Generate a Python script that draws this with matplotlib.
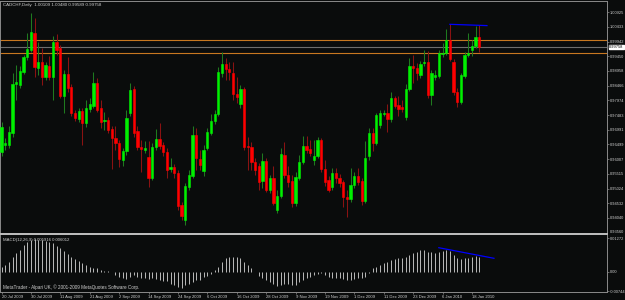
import numpy as np
import matplotlib
matplotlib.use("Agg")
import matplotlib.pyplot as plt
import matplotlib.transforms as mtransforms
from matplotlib.lines import Line2D

plt.rcParams["font.family"] = ["Liberation Sans", "DejaVu Sans"]

# ---- data ----
symbol_info = "CADCHF,Daily  1.00109 1.00480 0.99589 0.99758"
macd_info = "MACD(12,26,9) 0.005916 0.006012"
footer = "MetaTrader - Alpari UK, \u00a9 2001-2009 MetaQuotes Software Corp."

opens = [0.96237, 0.96471, 0.96471, 0.96872, 0.98511, 0.98478, 0.98912, 0.99414, 0.99648, 1.00216,
         0.99046, 0.99247, 0.98745, 0.99113, 0.98745, 0.99916, 0.99715, 0.98110, 0.98845, 0.98411,
         0.97541, 0.97341, 0.97608, 0.97207, 0.97675, 0.97775, 0.98544, 0.97709, 0.97274, 0.97307,
         0.97006, 0.96705, 0.96538, 0.95970, 0.96271, 0.97541, 0.98344, 0.96939, 0.96404, 0.96304,
         0.96070, 0.95368, 0.96404, 0.96672, 0.96471, 0.96237, 0.95669, 0.95736, 0.95535, 0.94465,
         0.93963, 0.95067, 0.95435, 0.96806, 0.96003, 0.95602, 0.96371, 0.96872, 0.97274, 0.97508,
         0.98879, 0.99180, 0.99013, 0.98879, 0.98177, 0.97842, 0.98344, 0.96438, 0.96404, 0.95903,
         0.95769, 0.95267, 0.95936, 0.94966, 0.95368, 0.94298, 0.94766, 0.96137, 0.95468, 0.95267,
         0.94532, 0.95368, 0.95903, 0.96438, 0.96337, 0.95970, 0.96103, 0.96638, 0.95669, 0.95301,
         0.95067, 0.95535, 0.95368, 0.95234, 0.94732, 0.94665, 0.95134, 0.95435, 0.95267, 0.94599,
         0.96103, 0.96872, 0.96538, 0.97140, 0.97508, 0.97541, 0.97341, 0.98043, 0.97809, 0.97742,
         0.97408, 0.98344, 0.99113, 0.99046, 0.98812, 0.99213, 0.99247, 0.98143, 0.98745, 0.98779,
         0.99514, 0.99548, 0.99982, 0.99247, 0.98244, 0.97909, 0.98779, 0.99481, 0.99648, 0.99782,
         1.00109]
highs = [0.97240, 0.96705, 0.97107, 0.98879, 0.99146, 0.99113, 0.99481, 1.00216, 1.00885, 1.00718,
         0.99916, 0.99715, 0.99247, 0.99447, 1.00116, 1.00183, 0.99815, 0.98979, 0.99414, 0.98511,
         0.97642, 0.97709, 0.97709, 0.97976, 0.98043, 0.98912, 0.98712, 0.97976, 0.97575, 0.97408,
         0.97107, 0.97107, 0.96638, 0.96371, 0.97642, 0.98544, 0.98444, 0.97107, 0.96638, 0.96605,
         0.96605, 0.96538, 0.97006, 0.97207, 0.96572, 0.96371, 0.96037, 0.95836, 0.95635, 0.94565,
         0.95201, 0.95635, 0.97107, 0.97040, 0.96304, 0.96471, 0.97040, 0.97508, 0.97642, 0.99080,
         0.99581, 0.99381, 0.99247, 0.99247, 0.98745, 0.98478, 0.98411, 0.96739, 0.96572, 0.96037,
         0.95869, 0.96204, 0.96037, 0.95468, 0.95769, 0.94966, 0.96371, 0.96572, 0.95769, 0.95468,
         0.95568, 0.96137, 0.96772, 0.96772, 0.96638, 0.96638, 0.96739, 0.96705, 0.95970, 0.95435,
         0.95702, 0.95702, 0.95501, 0.95301, 0.94966, 0.95702, 0.95568, 0.95702, 0.95368, 0.96605,
         0.97040, 0.97040, 0.97541, 0.97642, 0.97642, 0.97842, 0.98244, 0.98110, 0.98110, 0.97976,
         0.98511, 0.99381, 0.99481, 0.99213, 0.99280, 0.99648, 0.99615, 0.98979, 0.98979, 0.99648,
         0.99882, 1.00350, 1.00517, 0.99347, 0.98377, 0.98879, 0.99581, 1.00216, 0.99982, 1.00451,
         1.00480]
lows = [0.96103, 0.96304, 0.96371, 0.96739, 0.97976, 0.98377, 0.98845, 0.99314, 0.99581, 0.98745,
        0.98812, 0.98478, 0.98645, 0.98645, 0.97976, 0.99481, 0.98043, 0.97541, 0.98244, 0.97441,
        0.97274, 0.97240, 0.96471, 0.97073, 0.97575, 0.97709, 0.97575, 0.97040, 0.96973, 0.96872,
        0.95669, 0.96304, 0.95736, 0.95769, 0.96137, 0.97441, 0.96739, 0.96304, 0.95568, 0.96204,
        0.95067, 0.95301, 0.96304, 0.96337, 0.96103, 0.95368, 0.95568, 0.95368, 0.94298, 0.93963,
        0.93796, 0.94966, 0.95368, 0.95635, 0.95635, 0.95435, 0.96304, 0.96806, 0.97173, 0.97441,
        0.98745, 0.98645, 0.98645, 0.97976, 0.97876, 0.97709, 0.96304, 0.95635, 0.95635, 0.95468,
        0.94966, 0.95033, 0.94900, 0.94866, 0.94465, 0.94197, 0.94699, 0.95368, 0.95067, 0.94398,
        0.94431, 0.95301, 0.95836, 0.96204, 0.96103, 0.95802, 0.96037, 0.95568, 0.95100, 0.94900,
        0.94966, 0.95201, 0.95067, 0.94398, 0.94064, 0.94565, 0.95033, 0.95134, 0.94465, 0.94532,
        0.95970, 0.96271, 0.96471, 0.97040, 0.97441, 0.96906, 0.97240, 0.97709, 0.97441, 0.97575,
        0.97307, 0.98277, 0.98544, 0.98645, 0.98712, 0.99113, 0.98043, 0.97809, 0.98645, 0.98712,
        0.99414, 0.99481, 0.99280, 0.98143, 0.97742, 0.97842, 0.98712, 0.99414, 0.99447, 0.99715,
        0.99589]
closes = [0.97073, 0.96538, 0.96906, 0.98511, 0.98578, 0.98946, 0.99414, 0.99681, 1.00250, 0.99080,
          0.99247, 0.98745, 0.99146, 0.98745, 0.99916, 0.99648, 0.98110, 0.98845, 0.98377, 0.97541,
          0.97374, 0.97608, 0.97207, 0.97709, 0.97842, 0.98544, 0.97642, 0.97240, 0.97307, 0.96973,
          0.96705, 0.96538, 0.96003, 0.96271, 0.97374, 0.98310, 0.96872, 0.96404, 0.96337, 0.96371,
          0.95368, 0.96404, 0.96672, 0.96438, 0.96237, 0.95635, 0.95736, 0.95535, 0.94431, 0.94097,
          0.95100, 0.95468, 0.96806, 0.96037, 0.95802, 0.96304, 0.96906, 0.97274, 0.97508, 0.98912,
          0.99180, 0.99013, 0.98912, 0.98177, 0.98076, 0.98344, 0.96404, 0.96404, 0.95903, 0.95635,
          0.95234, 0.95936, 0.94966, 0.95368, 0.94532, 0.94766, 0.96170, 0.95468, 0.95234, 0.94532,
          0.95401, 0.95903, 0.96438, 0.96304, 0.96204, 0.96103, 0.96638, 0.95669, 0.95234, 0.94966,
          0.95535, 0.95368, 0.95201, 0.94732, 0.94665, 0.95134, 0.95435, 0.95234, 0.94599, 0.96037,
          0.96872, 0.96538, 0.97474, 0.97541, 0.97541, 0.97341, 0.98043, 0.97775, 0.97675, 0.97675,
          0.98344, 0.99113, 0.99046, 0.98879, 0.99180, 0.99247, 0.98143, 0.98879, 0.98812, 0.99548,
          0.99548, 0.99982, 0.99347, 0.98244, 0.97909, 0.98812, 0.99481, 0.99548, 0.99782, 1.00083,
          0.99758]

macd = [0.0018, 0.0025, 0.0036, 0.0057, 0.0070, 0.0083, 0.0102, 0.0112, 0.0121, 0.0125,
        0.0121, 0.0121, 0.0118, 0.0114, 0.0108, 0.0099, 0.0091, 0.0079, 0.0066, 0.0057,
        0.0048, 0.0041, 0.0032, 0.0025, 0.0019, 0.0015, 0.0013, 0.0008, 0.0004, 0.0001,
        -0.0001, -0.0013, -0.0022, -0.0025, -0.0028, -0.0019, -0.0013, -0.0019, -0.0023, -0.0025,
        -0.0029, -0.0025, -0.0029, -0.0032, -0.0036, -0.0036, -0.0045, -0.0051, -0.0057, -0.0064,
        -0.0051, -0.0045, -0.0038, -0.0032, -0.0030, -0.0022, -0.0016, -0.0010, 0.0006, 0.0019,
        0.0036, 0.0051, 0.0055, 0.0055, 0.0055, 0.0053, 0.0038, 0.0025, 0.0013, 0.0000,
        -0.0015, -0.0023, -0.0032, -0.0038, -0.0045, -0.0055, -0.0051, -0.0048, -0.0048, -0.0051,
        -0.0051, -0.0041, -0.0032, -0.0025, -0.0019, -0.0013, -0.0010, -0.0006, -0.0013, -0.0019,
        -0.0023, -0.0023, -0.0025, -0.0028, -0.0032, -0.0032, -0.0028, -0.0025, -0.0025, -0.0022,
        -0.0006, 0.0013, 0.0019, 0.0025, 0.0032, 0.0038, 0.0045, 0.0048, 0.0051, 0.0053,
        0.0055, 0.0063, 0.0072, 0.0076, 0.0081, 0.0084, 0.0074, 0.0074, 0.0070, 0.0076,
        0.0079, 0.0083, 0.0079, 0.0064, 0.0051, 0.0048, 0.0051, 0.0053, 0.0056, 0.0058,
        0.0057]

date_labels = ["20 Jul 2009", "30 Jul 2009", "11 Aug 2009", "21 Aug 2009", "2 Sep 2009",
               "14 Sep 2009", "24 Sep 2009", "6 Oct 2009", "16 Oct 2009", "28 Oct 2009",
               "9 Nov 2009", "19 Nov 2009", "1 Dec 2009", "11 Dec 2009", "23 Dec 2009",
               "6 Jan 2010", "18 Jan 2010"]
label_every = 8

price_ticks = [0.94040, 0.94532, 0.95024, 0.95515, 0.96007, 0.96499, 0.96991, 0.97483,
               0.97974, 0.98466, 0.98958, 0.99450, 0.99942, 1.00433, 1.00925]
macd_ticks = [0.01272, 0.0, -0.00744]
macd_tick_labels = ["0.01272", "0.00", "-0.00744"]
bottom_price_label = 0.93560

level_lines = [0.99982, 0.99571]
trend_main_x, trend_main_y = [122, 132.1], [1.00517, 1.00474]
trend_macd_x, trend_macd_y = [119, 134], [0.00914, 0.00511]

# ---- style ----
BG = "#0a0c0c"
FRAME = "#8a8a8a"
TXT = "#d0d0d0"
UP, DOWN = "#00f000", "#ff0000"
UP_WICK, DOWN_WICK = "#1f7a1f", "#8a1212"
W, H = 625, 300
FS = 2.9

fig = plt.figure(figsize=(W / 100, H / 100), dpi=100, facecolor=BG)

def px_rect(x0, x1, ytop, ybot):
    return [x0 / W, 1 - ybot / H, (x1 - x0) / W, (ybot - ytop) / H]

ax = fig.add_axes(px_rect(0, 607, 1, 233), facecolor=BG)
axm = fig.add_axes(px_rect(0, 607, 235, 291.7), facecolor=BG, sharex=ax)

n = len(opens)
idx = np.arange(n)
o = np.array(opens); c = np.array(closes)
hi = np.array(highs); lo = np.array(lows)
up = c >= o

# wicks
ax.vlines(idx[up], lo[up], hi[up], color=UP_WICK, lw=0.75, zorder=2)
ax.vlines(idx[~up], lo[~up], hi[~up], color=DOWN_WICK, lw=0.75, zorder=2)
# bodies
body_lo = np.minimum(o, c)
body_h = np.abs(c - o)
ax.bar(idx[up], body_h[up], bottom=body_lo[up], width=0.62, color=UP,
       edgecolor=UP, lw=0.4, zorder=3)
ax.bar(idx[~up], body_h[~up], bottom=body_lo[~up], width=0.62, color=DOWN,
       edgecolor=DOWN, lw=0.4, zorder=3)

# horizontal levels and bid line
for lv in level_lines:
    ax.axhline(lv, color="#c87820", lw=0.8, zorder=1)
ax.axhline(closes[-1], color="#6e6e6e", lw=0.8, zorder=1)
ax.plot(trend_main_x, trend_main_y, color="#0000ff", lw=0.9, zorder=4)

# x range: bar i sits at px 1.5 + 3.675*i
step = 3.675
ax.set_xlim(-1.5 / step, (607 - 1.5) / step)
ax.set_ylim(0.94040 - 15 * 0.0003344, 0.94040 + 217 * 0.0003344)

ax.yaxis.tick_right()
ax.set_yticks(price_ticks)
ax.set_yticklabels([f"{v:.5f}" for v in price_ticks])
ax.tick_params(axis="y", length=1.5, width=0.5, color=FRAME, labelcolor=TXT,
               labelsize=FS, pad=0.6)
ax.tick_params(axis="x", bottom=False, labelbottom=False)
for side in ["left", "top", "right"]:
    ax.spines[side].set_color(FRAME)
    ax.spines[side].set_linewidth(0.7)
ax.spines["bottom"].set_visible(False)

bt = mtransforms.blended_transform_factory(ax.transAxes, ax.transData)
ax.text(1.0036, closes[-1], f"{closes[-1]:.5f}", transform=bt, ha="left", va="center",
        fontsize=FS, color="black", zorder=6,
        bbox=dict(facecolor="white", edgecolor="white", pad=0.3))
ax.text(1.0049, bottom_price_label, f"{bottom_price_label:.5f}", transform=bt,
        ha="left", va="center", fontsize=FS, color=TXT, clip_on=False)

# MACD panel
axm.vlines(idx, 0, macd, color="#b4b4b4", lw=0.72)
axm.plot(trend_macd_x, trend_macd_y, color="#0000ff", lw=0.9)
axm.set_ylim(-20 * 0.000381, 36.7 * 0.000381)
axm.yaxis.tick_right()
axm.set_yticks(macd_ticks)
axm.set_yticklabels(macd_tick_labels)
axm.tick_params(axis="y", length=1.5, width=0.5, color=FRAME, labelcolor=TXT,
                labelsize=FS, pad=0.6)
tick_pos = idx[::label_every][:len(date_labels)]
axm.set_xticks(tick_pos)
axm.set_xticklabels(date_labels, ha="left")
axm.tick_params(axis="x", length=1.5, width=0.5, color=FRAME, labelcolor=TXT,
                labelsize=3.0, pad=0.8)
for side in ["left", "bottom", "right"]:
    axm.spines[side].set_color(FRAME)
    axm.spines[side].set_linewidth(0.7)
axm.spines["top"].set_visible(False)

# separator between the windows
fig.add_artist(Line2D([0, 607 / W], [1 - 234 / H] * 2, transform=fig.transFigure,
                      color="#c0c0c0", lw=1.4))

fig.text(3 / W, 1 - 5 / H, symbol_info, fontsize=3.2, color=TXT, va="center")
fig.text(3 / W, 1 - 240 / H, macd_info, fontsize=3.1, color=TXT, va="center")
fig.text(3 / W, 1 - 287 / H, footer, fontsize=3.3, color=TXT, va="center")

fig.savefig("out.png", dpi=100, facecolor=BG)
